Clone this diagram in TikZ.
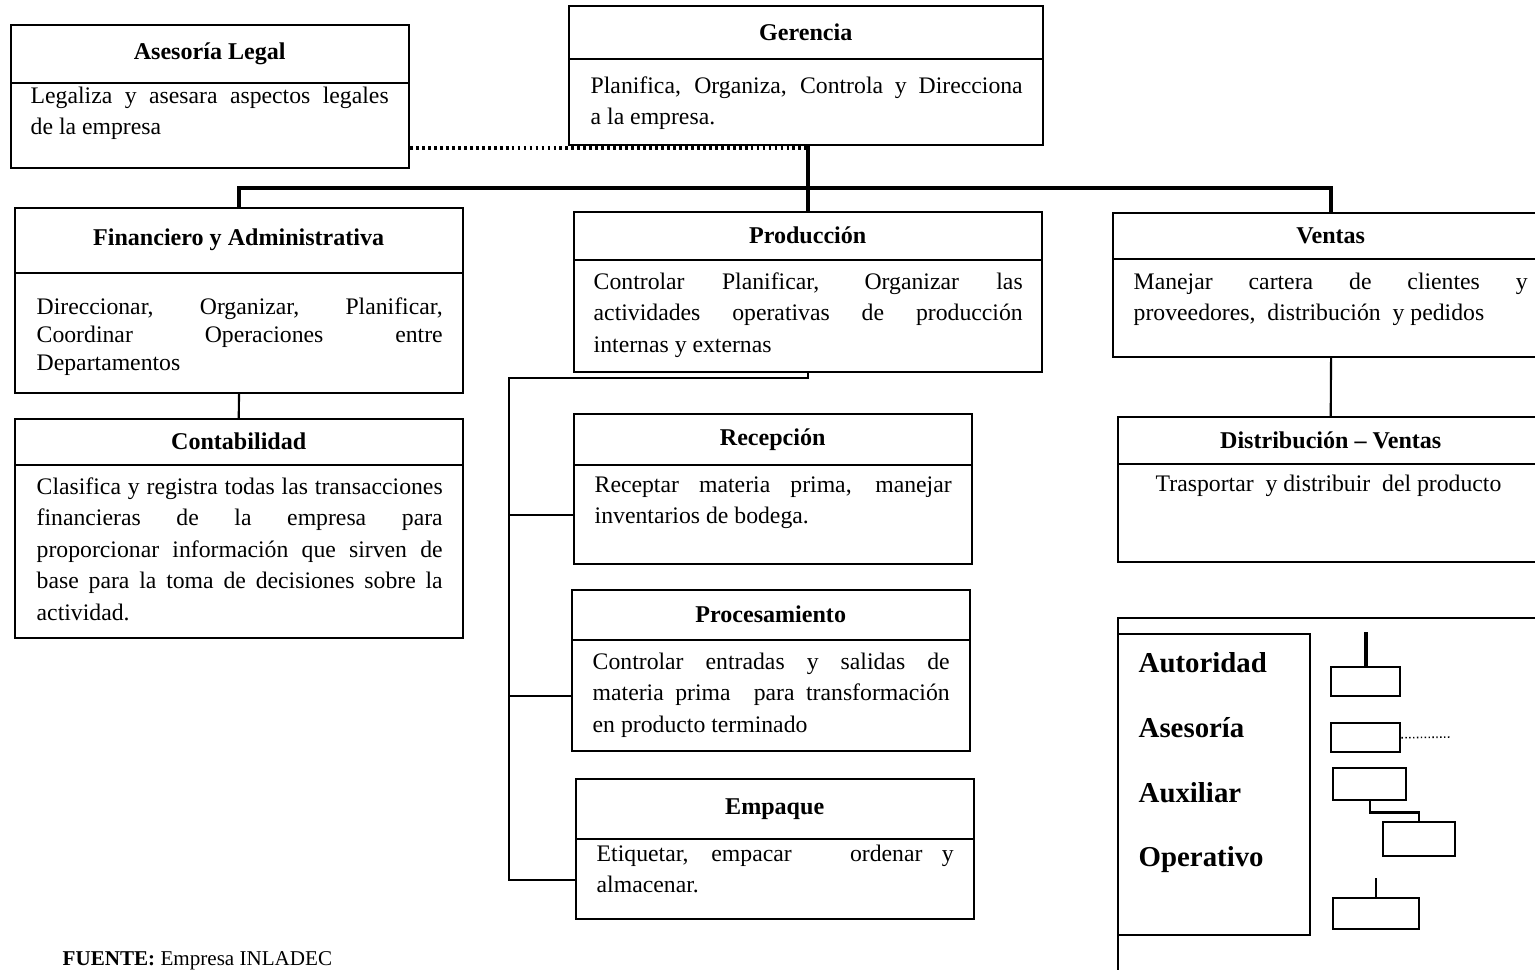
\documentclass[tikz,border=0pt]{standalone}
\usepackage{fontspec}
\setmainfont{Liberation Serif}
\usetikzlibrary{calc}
\tolerance=10000
\hyphenpenalty=10000

\begin{document}
\begin{tikzpicture}[x=0.1mm,y=-0.1mm]
  \tikzstyle{frame}=[draw,line width=0.6pt,rectangle,anchor=north west,inner sep=0pt];
  \tikzstyle{head}=[rectangle,anchor=north west,inner sep=0pt,font=\fontsize{6.85}{8}\selectfont\bfseries,append after command={(\tikzlastnode.south west) edge[line width=0.6pt] (\tikzlastnode.south east)}];
  \tikzstyle{desc}=[anchor=base west,inner sep=0pt,align=justify,font=\fontsize{6.75}{9}\selectfont];
  \tikzstyle{line}=[line width=0.6pt];
  \tikzstyle{authority}=[line width=1.2pt];
  \tikzstyle{advice}=[line width=1.1pt,dash pattern=on 0.8pt off 0.9pt];
  \tikzstyle{legendlabel}=[anchor=west,inner sep=0pt,font=\fontsize{8.2}{10}\selectfont\bfseries];
  \tikzstyle{sample}=[draw,line width=0.7pt,rectangle,anchor=north west,inner sep=0pt];

  \path[use as bounding box,clip] (0,0) rectangle (1535,969);

  % Gerencia
  \node[frame,minimum width=47.4mm,minimum height=13.9mm] (gerenciaB) at (568,5) {};
  \node[head,minimum width=47.4mm,minimum height=5.3mm] (gerencia) at (568,5) {Gerencia};
  \node[desc,text width=43.2mm] (gerenciaT) at (590,93) {Planifica, Organiza, Controla y Direcciona\linebreak a la empresa.};

  % Asesoria Legal
  \node[frame,minimum width=39.8mm,minimum height=14.3mm] (legalB) at (10,24) {};
  \node[head,minimum width=39.8mm,minimum height=5.8mm] (legal) at (10,24) {Asesoría Legal};
  \node[desc,text width=35.8mm] (legalT) at (30,103) {Legaliza y asesara aspectos legales\linebreak de la empresa};

  % Financiero y Administrativa
  \node[frame,minimum width=44.8mm,minimum height=18.5mm] (financieroB) at (14,207) {};
  \node[head,minimum width=44.8mm,minimum height=6.5mm] (financiero) at (14,207) {Financiero y Administrativa};
  \node[desc,text width=40.6mm,font=\fontsize{6.75}{8.1}\selectfont] (financieroT) at (36,314) {Direccionar, Organizar, Planificar,\linebreak Coordinar Operaciones entre\linebreak Departamentos};

  % Contabilidad
  \node[frame,minimum width=44.8mm,minimum height=21.9mm] (contabilidadB) at (14,418) {};
  \node[head,minimum width=44.8mm,minimum height=4.6mm] (contabilidad) at (14,418) {Contabilidad};
  \node[desc,text width=40.6mm] (contabilidadT) at (36,494) {Clasifica y registra todas las transacciones\linebreak financieras de la empresa para\linebreak proporcionar información que sirven de\linebreak base para la toma de decisiones sobre la\linebreak actividad.};

  % Produccion
  \node[frame,minimum width=46.8mm,minimum height=16mm] (produccionB) at (573,211) {};
  \node[head,minimum width=46.8mm,minimum height=4.8mm] (produccion) at (573,211) {Producción};
  \node[desc,text width=42.9mm] (produccionT) at (593,289) {Controlar Planificar, Organizar las\linebreak actividades operativas de producción\linebreak internas y externas};

  % Recepcion
  \node[frame,minimum width=39.8mm,minimum height=15mm] (recepcionB) at (573,413) {};
  \node[head,minimum width=39.8mm,minimum height=5.1mm] (recepcion) at (573,413) {Recepción};
  \node[desc,text width=35.7mm] (recepcionT) at (594,492) {Receptar materia prima, manejar\linebreak inventarios de bodega.};

  % Procesamiento
  \node[frame,minimum width=39.8mm,minimum height=16.1mm] (procesamientoB) at (571,589) {};
  \node[head,minimum width=39.8mm,minimum height=5mm] (procesamiento) at (571,589) {Procesamiento};
  \node[desc,text width=35.7mm] (procesamientoT) at (592,669) {Controlar entradas y salidas de\linebreak materia prima\ \ para transformación\linebreak en producto terminado};

  % Empaque
  \node[frame,minimum width=39.8mm,minimum height=14mm] (empaqueB) at (575,778) {};
  \node[head,minimum width=39.8mm,minimum height=6mm] (empaque) at (575,778) {Empaque};
  \node[desc,text width=35.7mm] (empaqueT) at (596,861) {Etiquetar, empacar\ \ \ ordenar y\linebreak almacenar.};

  % Ventas
  \node[frame,minimum width=43.6mm,minimum height=14.4mm] (ventasB) at (1112,212) {};
  \node[head,minimum width=43.6mm,minimum height=4.6mm] (ventas) at (1112,212) {Ventas};
  \node[desc,text width=39.4mm] (ventasT) at (1133,289) {Manejar cartera de clientes y\linebreak proveedores,\ \ distribución\ \ y pedidos};

  % Distribucion - Ventas
  \node[frame,minimum width=42.6mm,minimum height=14.5mm] (distribucionB) at (1117,416) {};
  \node[head,minimum width=42.6mm,minimum height=4.7mm] (distribucion) at (1117,416) {Distribución \textendash{} Ventas};
  \node[desc] (distribucionT) at (1155,491) {Trasportar\ \ y distribuir\ \ del producto};

  % lines of authority and advice
  \draw[advice] ($(gerenciaB.south -| legalB.east)+(0,2)$) -- ($(gerenciaB.south -| produccion.north)+(0,2)$);
  \draw[authority] (gerenciaB.south -| produccion.north) -- (produccion.north);
  \coordinate (bus) at (807,188);
  \draw[authority] (financiero.north) |- (bus) -| (ventas.north);
  \draw[line] (financieroB.south) -- (contabilidad.north);
  \draw[line] (ventasB.south) -- (distribucion.north);

  % Produccion subunits
  \coordinate (prodbus) at (509,378);
  \coordinate (recepcionIn) at ($(recepcion.south west)!0.5!(recepcionB.south west)$);
  \coordinate (procesamientoIn) at ($(procesamiento.south west)!0.5!(procesamientoB.south west)$);
  \coordinate (empaqueIn) at ($(empaque.south west)!0.5!(empaqueB.south west)$);
  \draw[line] (produccionB.south) |- (prodbus) |- (empaqueIn);
  \draw[line] (prodbus |- recepcionIn) -- (recepcionIn);
  \draw[line] (prodbus |- procesamientoIn) -- (procesamientoIn);

  % legend
  \node[frame,minimum width=44mm,minimum height=36mm] (legend) at (1117,617) {};
  \node[frame,minimum width=19.2mm,minimum height=30.1mm] (legendkey) at (1117,633) {};
  \node[legendlabel] (autoridad) at (1138,663) {Autoridad};
  \node[legendlabel] (asesoria) at (1138,728) {Asesoría};
  \node[legendlabel] (auxiliar) at (1138,793) {Auxiliar};
  \node[legendlabel] (operativo) at (1138,860) {Operativo};

  \node[sample,minimum width=6.9mm,minimum height=2.9mm] (sampleA) at (1330,666) {};
  \node[sample,minimum width=6.9mm,minimum height=2.9mm] (sampleB) at (1330,722) {};
  \node[sample,minimum width=7.3mm,minimum height=3.2mm] (sampleC) at (1332,767) {};
  \node[sample,minimum width=7.2mm,minimum height=3.4mm] (sampleD) at (1382,821) {};
  \node[sample,minimum width=8.6mm,minimum height=3.1mm] (sampleE) at (1332,897) {};
  \coordinate (endB) at (1451,737);
  \draw[authority] (sampleA.north) -- ++(0,-34);
  \draw[line width=0.45pt,dash pattern=on 0.4pt off 0.7pt] (sampleB.east) -- (endB);
  \draw[line] (sampleC.south) -- ++(0,11) -| (sampleD.north);
  \draw[line] (sampleE.north) -- ++(0,-19);

  % source
  \node[anchor=base west,inner sep=0pt,font=\fontsize{6}{7}\selectfont] (fuente) at (62,965) {\textbf{FUENTE:} Empresa INLADEC};
\end{tikzpicture}
\end{document}
